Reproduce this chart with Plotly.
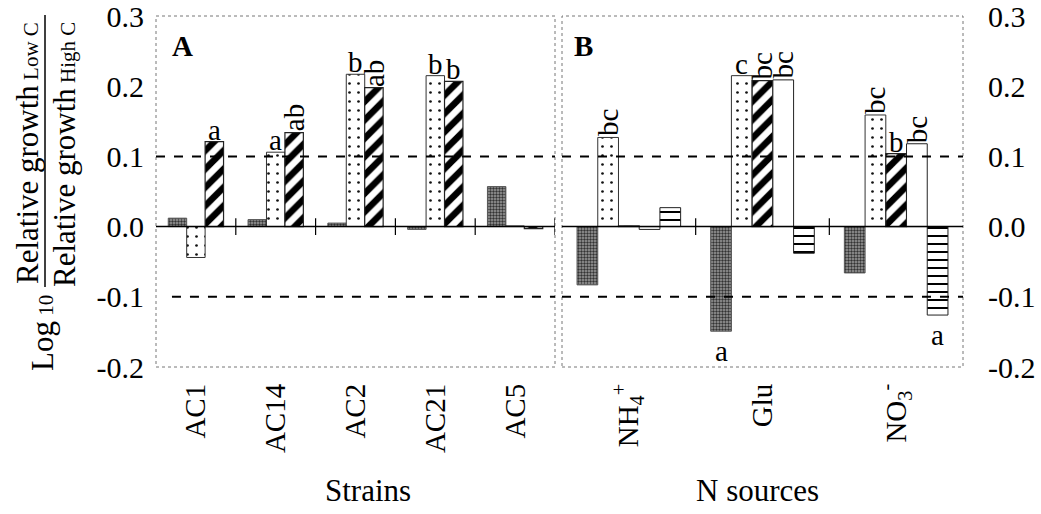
import plotly.graph_objects as go

# ---------------- data ----------------
strains = ["AC1", "AC14", "AC2", "AC21", "AC5"]
strain_gray = [0.012, 0.010, 0.005, -0.004, 0.057]
strain_dotted = [-0.044, 0.106, 0.217, 0.215, 0.001]
strain_hatched = [0.121, 0.134, 0.198, 0.207, -0.003]

n_sources = ["NH<sub>4</sub><sup>+</sup>", "Glu", "NO<sub>3</sub><sup>-</sup>"]
n_gray = [-0.083, -0.149, -0.066]
n_dotted = [0.127, 0.215, 0.159]
n_hatched = [0.001, 0.208, 0.104]
n_white = [-0.004, 0.209, 0.118]
n_hstripe = [0.027, -0.038, -0.126]

y_ticks = [-0.2, -0.1, 0.0, 0.1, 0.2, 0.3]
y_ticktext = ["-0.2", "-0.1", "0.0", "0.1", "0.2", "0.3"]

# (category index, series index, letter, rotated, below)
strain_letters = [(0, 2, "a", False, False), (1, 1, "a", False, False), (1, 2, "ab", True, False),
                  (2, 1, "b", False, False), (2, 2, "ab", True, False),
                  (3, 1, "b", False, False), (3, 2, "b", False, False)]
n_letters = [(0, 1, "bc", True, False), (1, 1, "c", False, False), (1, 2, "bc", True, False),
             (1, 3, "bc", True, False), (2, 1, "bc", True, False), (2, 2, "b", False, False),
             (2, 3, "bc", True, False), (1, 0, "a", False, True), (2, 4, "a", False, True)]

FONT = "Liberation Serif"
W, H = 1041, 514
XDOM = {"x": [156 / W, 555 / W], "x2": [562 / W, 963 / W]}
YDOM = [1 - 367 / H, 1 - 16 / H]
YR = [-0.2, 0.3]

styles = {
    "gray": dict(color="#8e8e8e", pattern=dict(shape=".", fgcolor="#333", bgcolor="#9e9e9e", size=3, solidity=0.5,
                                               fgopacity=1),
                 line=dict(color="#555", width=1)),
    "dotted": dict(color="white", pattern=dict(shape=".", fgcolor="#111", bgcolor="white", size=9, solidity=0.07,
                                               fgopacity=1),
                   line=dict(color="#333", width=1)),
    "hatched": dict(color="white", pattern=dict(shape="/", fgcolor="black", bgcolor="white", size=13, solidity=0.5,
                                                fgopacity=1),
                    line=dict(color="#222", width=1.2)),
    "white": dict(color="white", line=dict(color="#222", width=1)),
    "hstripe": dict(color="white", pattern=dict(shape="-", fgcolor="black", bgcolor="white", size=8, solidity=0.25,
                                                fgopacity=1),
                    line=dict(color="#222", width=1)),
}

fig = go.Figure()

left_series = [("gray", strain_gray), ("dotted", strain_dotted), ("hatched", strain_hatched)]
right_series = [("gray", n_gray), ("dotted", n_dotted), ("hatched", n_hatched),
                ("white", n_white), ("hstripe", n_hstripe)]
wL, wR = 0.231, 0.155
LSIZE = 29


def add_panel(series, cats, w, xa, ya):
    n = len(series)
    for k, (st, vals) in enumerate(series):
        fig.add_trace(go.Bar(
            x=list(range(len(cats))), y=vals, width=w, offset=-n * w / 2 + k * w,
            marker=styles[st], xaxis=xa, yaxis=ya, showlegend=False, hoverinfo="skip"))


add_panel(left_series, strains, wL, "x", "y")
add_panel(right_series, n_sources, wR, "x2", "y2")


def add_letters(letters, series, w, xref, yref):
    n = len(series)
    for (i, k, txt, rot, below) in letters:
        v = series[k][1][i]
        xc = i - n * w / 2 + (k + 0.5) * w
        font = dict(family=FONT, size=LSIZE, color="black")
        if rot:
            fig.add_annotation(x=xc, y=v, xref=xref, yref=yref, text=txt, showarrow=False,
                               textangle=-90, xanchor="center", yanchor="bottom", yshift=-1, font=font)
        elif below:
            fig.add_annotation(x=xc, y=v, xref=xref, yref=yref, text=txt, showarrow=False,
                               xanchor="center", yanchor="top", yshift=-2, font=font)
        else:
            fig.add_annotation(x=xc, y=v, xref=xref, yref=yref, text=txt, showarrow=False,
                               xanchor="center", yanchor="bottom", yshift=-6, font=font)


add_letters(strain_letters, left_series, wL, "x", "y")
add_letters(n_letters, right_series, wR, "x2", "y2")

# panel letters
fig.add_annotation(x=0.035, y=0.965, xref="x domain", yref="y domain", text="<b>A</b>", showarrow=False,
                   xanchor="left", yanchor="top", font=dict(family=FONT, size=29, color="black"))
fig.add_annotation(x=0.025, y=0.965, xref="x2 domain", yref="y2 domain", text="<b>B</b>", showarrow=False,
                   xanchor="left", yanchor="top", font=dict(family=FONT, size=29, color="black"))

# x titles
fig.add_annotation(x=368 / W, y=1 - 490 / H, xref="paper", yref="paper", text="Strains", showarrow=False,
                   xanchor="center", yanchor="middle", font=dict(family=FONT, size=31, color="black"))
fig.add_annotation(x=757 / W, y=1 - 490 / H, xref="paper", yref="paper", text="N sources", showarrow=False,
                   xanchor="center", yanchor="middle", font=dict(family=FONT, size=31, color="black"))

# y title (fraction)
fig.add_annotation(x=27 / W, y=1 - 153 / H, xref="paper", yref="paper",
                   text="Relative growth<span style='font-size:21px'> Low C</span>", textangle=-90, showarrow=False,
                   xanchor="center", yanchor="middle", font=dict(family=FONT, size=31, color="black"))
fig.add_annotation(x=64 / W, y=1 - 155 / H, xref="paper", yref="paper",
                   text="Relative growth<span style='font-size:21px'> High C</span>", textangle=-90, showarrow=False,
                   xanchor="center", yanchor="middle", font=dict(family=FONT, size=31, color="black"))
fig.add_annotation(x=42 / W, y=1 - 333 / H, xref="paper", yref="paper",
                   text="Log<span style='font-size:21px'> 10</span>", textangle=-90, showarrow=False,
                   xanchor="center", yanchor="middle", font=dict(family=FONT, size=31, color="black"))

shapes = []
shapes.append(dict(type="line", xref="paper", yref="paper", x0=45 / W, x1=45 / W, y0=1 - 15 / H, y1=1 - 287 / H,
                   line=dict(color="black", width=1.5)))

# panel borders, zero lines, reference lines, group separators
for xa, ya, ncat in [("x", "y", len(strains)), ("x2", "y2", len(n_sources))]:
    shapes.append(dict(type="rect", xref=f"{xa} domain", yref=f"{ya} domain", x0=0, x1=1, y0=0, y1=1,
                       line=dict(color="#777", width=1, dash="dot"), layer="below"))
    shapes.append(dict(type="line", xref=f"{xa} domain", yref=ya, x0=0, x1=1, y0=0, y1=0,
                       line=dict(color="black", width=1.5)))
    for yv in (0.1, -0.1):
        shapes.append(dict(type="line", xref=f"{xa} domain", yref=ya,
                           x0=0.04 if (xa == "x" and yv < 0) else 0, x1=1, y0=yv, y1=yv,
                           line=dict(color="black", width=2, dash="dash")))
    for i in range(ncat - 1 if xa == "x2" else ncat):
        shapes.append(dict(type="line", xref=xa, yref=ya, x0=i + 0.5, x1=i + 0.5, y0=-0.012, y1=0.012,
                           line=dict(color="black", width=1.2)))

common_x = dict(tickangle=-90, showgrid=False, zeroline=False, showline=False, ticks="",
                automargin=False, ticklabelstandoff=10, tickfont=dict(family=FONT, size=29))
common_y = dict(range=YR, tickvals=y_ticks, ticktext=y_ticktext, domain=YDOM,
                showgrid=False, zeroline=False, showline=False, ticks="", automargin=False,
                ticklabeloverflow="allow", tickfont=dict(family=FONT, size=30))

fig.update_layout(
    width=W, height=H,
    margin=dict(l=0, r=0, t=0, b=0, autoexpand=False),
    paper_bgcolor="white", plot_bgcolor="white",
    barmode="overlay",
    font=dict(family=FONT, size=29, color="black"),
    xaxis=dict(domain=XDOM["x"], range=[-0.5, len(strains) - 0.5],
               tickvals=list(range(len(strains))), ticktext=strains, anchor="y", **common_x),
    xaxis2=dict(domain=XDOM["x2"], range=[-0.5, len(n_sources) - 0.5],
                tickvals=list(range(len(n_sources))), ticktext=n_sources, anchor="y2", **common_x),
    yaxis=dict(anchor="x", ticklabelstandoff=11, **common_y),
    yaxis2=dict(anchor="x2", side="right", ticklabelstandoff=24, **common_y),
    shapes=shapes,
)

fig.write_html("out.html")
